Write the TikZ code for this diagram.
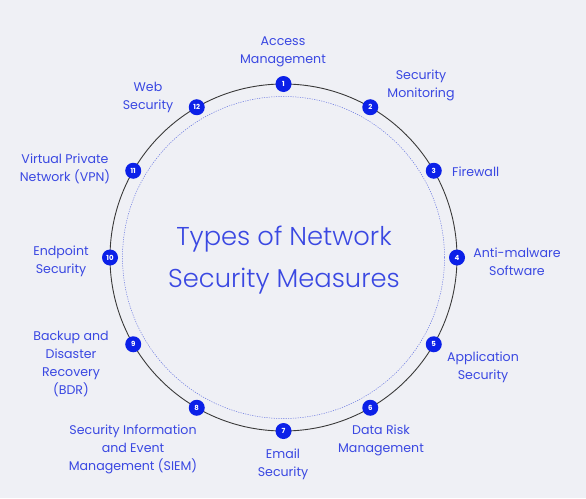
\documentclass[tikz,border=0pt]{standalone}
\usepackage{fontspec}
\usetikzlibrary{calc}
\setmainfont{Poppins}
\newfontfamily\titlefont{Poppins Light}
\definecolor{bg}{HTML}{EFF0F5}
\definecolor{txt}{HTML}{3A48E2}
\definecolor{dot}{HTML}{0B20E8}
\definecolor{ring}{HTML}{3A3A3A}
\definecolor{inner}{HTML}{6A78E0}
\tikzset{
  lbl/.style={text=txt, font=\fontsize{12.6}{18}\selectfont, align=center, inner sep=0pt, yshift=-1.5pt},
  num/.style={circle, fill=dot, minimum size=16pt, inner sep=0pt, text=white, font=\fontsize{7}{7}\selectfont\bfseries},
  ttl/.style={text=txt, font=\titlefont\fontsize{25.8}{42.5}\selectfont, align=center, inner sep=0pt}
}
\begin{document}
\begin{tikzpicture}[x=1pt,y=-1pt]
\fill[bg] (0,0) rectangle (586,498);
\useasboundingbox (0,0) rectangle (586,498);
\coordinate (c) at (283.5,257.5);
\draw[ring, line width=0.9pt] (c) circle[radius=173.5];
\draw[inner, line width=0.5pt, dash pattern=on 1.2pt off 1.2pt] (c) circle[radius=161];
\foreach \k in {1,...,12}{
  \node[num] (n\k) at ($(c)+({30*(\k-1)-90}:{173.5} )$) {\k};
}
\node[ttl] (title) at (284,260) {Types of Network\\Security Measures};
\node[lbl] (l1) at (283,50) {Access\\Management};
\node[lbl] (l2) at (421,84) {Security\\Monitoring};
\node[lbl, anchor=west] (l3) at (452,170) {Firewall};
\node[lbl] (l4) at (517,260) {Anti-malware\\Software};
\node[lbl] (l5) at (483,366) {Application\\Security};
\node[lbl] (l6) at (381,439) {Data Risk\\Management};
\node[lbl] (l7) at (283,463) {Email\\Security};
\node[lbl] (l8) at (133,448) {Security Information\\and Event\\Management (SIEM)};
\node[lbl] (l9) at (71,362.5) {Backup and\\Disaster\\Recovery\\(BDR)};
\node[lbl] (l10) at (61,260) {Endpoint\\Security};
\node[lbl] (l11) at (65,167) {Virtual Private\\Network (VPN)};
\node[lbl] (l12) at (148,96) {Web\\Security};
\end{tikzpicture}
\end{document}
